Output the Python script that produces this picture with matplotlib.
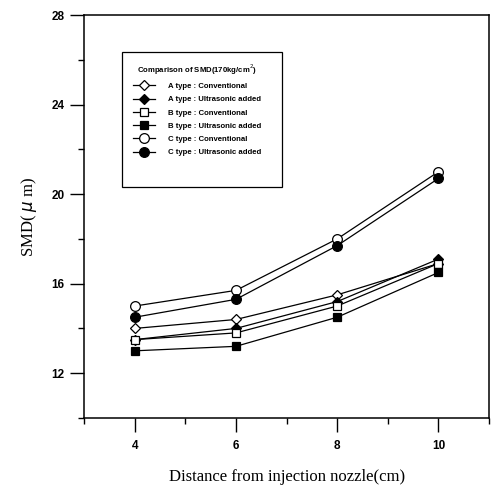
import matplotlib
matplotlib.use("Agg")
import matplotlib.pyplot as plt
from matplotlib.ticker import MultipleLocator
from matplotlib.patches import Rectangle

x = [4, 6, 8, 10]
a_conv = [14.0, 14.4, 15.5, 16.9]
a_ultra = [13.5, 14.0, 15.2, 17.1]
b_conv = [13.5, 13.8, 15.0, 16.9]
b_ultra = [13.0, 13.2, 14.5, 16.5]
c_conv = [15.0, 15.7, 18.0, 21.0]
c_ultra = [14.5, 15.3, 17.7, 20.7]

labels = ["A type : Conventional", "A type : Ultrasonic added",
          "B type : Conventional", "B type : Ultrasonic added",
          "C type : Conventional", "C type : Ultrasonic added"]
series = [a_conv, a_ultra, b_conv, b_ultra, c_conv, c_ultra]
markers = ["D", "D", "s", "s", "o", "o"]
fills = ["white", "black", "white", "black", "white", "black"]
msizes = [5, 5, 6, 6, 7, 7]

fig = plt.figure(figsize=(4.95, 4.86), dpi=100)
ax = fig.add_axes([0.170, 0.140, 0.818, 0.829])

for ys, m, fc, ms, lab in zip(series, markers, fills, msizes, labels):
    ax.plot(x, ys, color="black", lw=0.9, marker=m, markersize=ms,
            markerfacecolor=fc, markeredgecolor="black", markeredgewidth=0.9,
            label=lab)

ax.set_xlim(3, 11)
ax.set_ylim(10, 28)
ax.xaxis.set_minor_locator(MultipleLocator(1))
ax.yaxis.set_minor_locator(MultipleLocator(2))
ax.set_xticks([4, 6, 8, 10])
ax.set_yticks([12, 16, 20, 24, 28])
ax.tick_params(which="major", direction="out", length=10, width=1)
ax.tick_params(which="minor", direction="out", length=4.3, width=1)
ax.tick_params(axis="x", which="major", pad=6)
ax.tick_params(axis="y", which="major", pad=4)
for lbl in ax.get_xticklabels() + ax.get_yticklabels():
    lbl.set_fontfamily("Liberation Sans")
    lbl.set_fontweight("bold")
    lbl.set_fontsize(8.5)
for sp in ax.spines.values():
    sp.set_linewidth(1.1)

ax.set_ylabel("SMD( $\\mu$ m)", fontfamily="Liberation Serif", fontsize=12, labelpad=9)
ax.set_xlabel("Distance from injection nozzle(cm)", fontfamily="Liberation Serif",
              fontsize=12, labelpad=12)

ax.add_patch(Rectangle((0.094, 0.573), 0.395, 0.335, transform=ax.transAxes,
                       facecolor="white", edgecolor="black", lw=0.9, zorder=4))

leg = ax.legend(loc="upper left", bbox_to_anchor=(0.080, 0.923),
                title="Comparison of SMD(170kg/cm$^2$)",
                prop={"family": "Liberation Sans", "size": 5.6, "weight": "bold"},
                title_fontproperties={"family": "Liberation Sans", "size": 5.6, "weight": "bold"},
                frameon=False,
                handlelength=2.9, labelspacing=0.75, borderpad=1.6, handletextpad=1.6)
leg.set_zorder(5)

fig.savefig("out.png", dpi=100)
